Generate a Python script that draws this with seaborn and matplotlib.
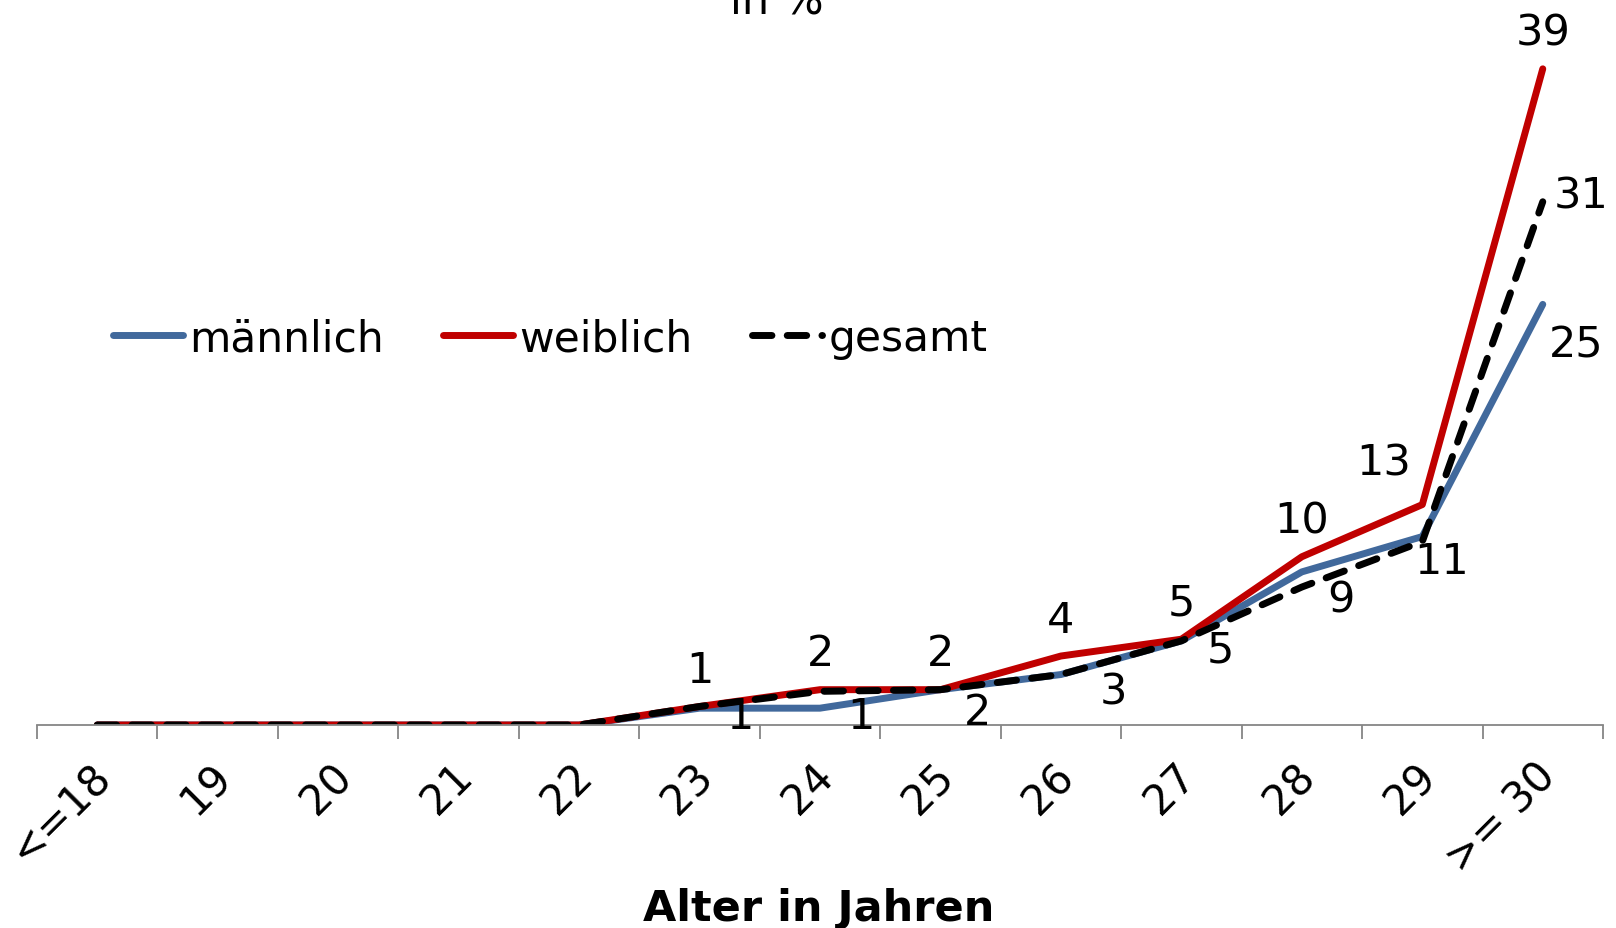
import numpy as np
import pandas as pd
import seaborn as sns
import matplotlib.pyplot as plt
from matplotlib.transforms import ScaledTranslation

# Daten (in %)
kategorien = ["<=18", "19", "20", "21", "22", "23", "24", "25", "26", "27", "28", "29", ">= 30"]
maennlich = [0, 0, 0, 0, 0, 1.0, 1.0, 2.1, 3.0, 5.0, 9.1, 11.2, 25.0]
weiblich = [0, 0, 0, 0, 0, 1.1, 2.1, 2.1, 4.1, 5.1, 10.0, 13.1, 39.0]
gesamt = [0, 0, 0, 0, 0, 1.1, 2.0, 2.1, 3.0, 5.0, 8.2, 10.9, 31.1]

# label offsets in pixels (dx, dy nach unten)
off_m = {5: (27, 3), 6: (27, 3), 7: (23, 18), 8: (39, 12), 9: (25, 4),
         10: (25, 23), 11: (-8, 20), 12: (6, 36)}
off_w = {11: (-39, -47)}

blau = "#41699c"
rot = "#c00000"
grau = "#868686"
fs = 31

sns.set_theme(style="white")
plt.rcParams['font.family'] = ['DejaVu Sans']
plt.rcParams['text.color'] = 'black'
plt.rcParams['xtick.color'] = 'black'

fig = plt.figure(figsize=(16.16, 9.29), dpi=100)
ax = fig.add_axes([37 / 1616, 1 - 726 / 929, 1566 / 1616, (726 - 53) / 929])

df = pd.DataFrame({"pos": np.arange(len(kategorien)), "männlich": maennlich,
                   "weiblich": weiblich, "gesamt": gesamt})

lw = 5.0
sns.lineplot(data=df, x="pos", y="männlich", color=blau, lw=lw, label="männlich",
             solid_capstyle="round", solid_joinstyle="round", ax=ax)
sns.lineplot(data=df, x="pos", y="weiblich", color=rot, lw=lw, label="weiblich",
             solid_capstyle="round", solid_joinstyle="round", ax=ax)
sns.lineplot(data=df, x="pos", y="gesamt", color="black", lw=lw, label="gesamt", ax=ax)
ln = ax.lines[-1]
ln.set_linestyle((0, (2.8, 2.2)))
ln.set_dash_capstyle("round")
ln.set_dash_joinstyle("round")

# Datenbeschriftungen
for i in range(5, len(kategorien)):
    dx, dy = off_m.get(i, (25, 10))
    ax.annotate(f"{maennlich[i]:.0f}", (i, maennlich[i]), xytext=(dx, -dy),
                textcoords="offset pixels", ha="left", va="center_baseline", fontsize=fs)
    dx, dy = off_w.get(i, (0, -41))
    ax.annotate(f"{weiblich[i]:.0f}", (i, weiblich[i]), xytext=(dx, -dy),
                textcoords="offset pixels", ha="center", va="center_baseline", fontsize=fs)
ax.annotate(f"{gesamt[-1]:.0f}", (12, gesamt[-1]), xytext=(11, 11),
            textcoords="offset pixels", ha="left", va="center_baseline", fontsize=fs)

ax.set_xlim(-0.5, len(kategorien) - 0.5)
ax.set_ylim(0, 40)
ax.set_xlabel("")
ax.set_ylabel("")
ax.set_yticks([])
for s in ["top", "right", "left"]:
    ax.spines[s].set_visible(False)
ax.spines["bottom"].set_color(grau)
ax.spines["bottom"].set_linewidth(1.3)

ax.set_xticks(np.arange(len(kategorien)))
ax.set_xticklabels(kategorien, rotation=45, ha="right", va="center",
                   rotation_mode="anchor", fontsize=30)
ax.set_xticks(np.arange(-0.5, len(kategorien)), minor=True)
ax.tick_params(axis="x", which="major", length=0, pad=32, labelcolor="black")
ax.tick_params(axis="x", which="minor", length=10, width=1.3, color=grau, direction="out")
ax.tick_params(axis="x", which="minor", bottom=True)
shift = ScaledTranslation(7 / 100, 0, fig.dpi_scale_trans)
for t in ax.get_xticklabels():
    t.set_transform(t.get_transform() + shift)

ax.legend(loc="center left", bbox_to_anchor=(113 / 1616, 1 - 339 / 929),
          bbox_transform=fig.transFigure, ncol=3, frameon=False, fontsize=30.5,
          handlelength=1.65, handletextpad=0.15, columnspacing=1.4,
          borderpad=0, borderaxespad=0)

fig.text(777 / 1616, 1 - 14 / 929, "in %", ha="center", va="baseline", fontsize=fs)
fig.text(819 / 1616, 1 - 921 / 929, "Alter in Jahren", ha="center", va="baseline",
         fontsize=fs, fontweight="bold")

fig.savefig("out.png", dpi=100)
